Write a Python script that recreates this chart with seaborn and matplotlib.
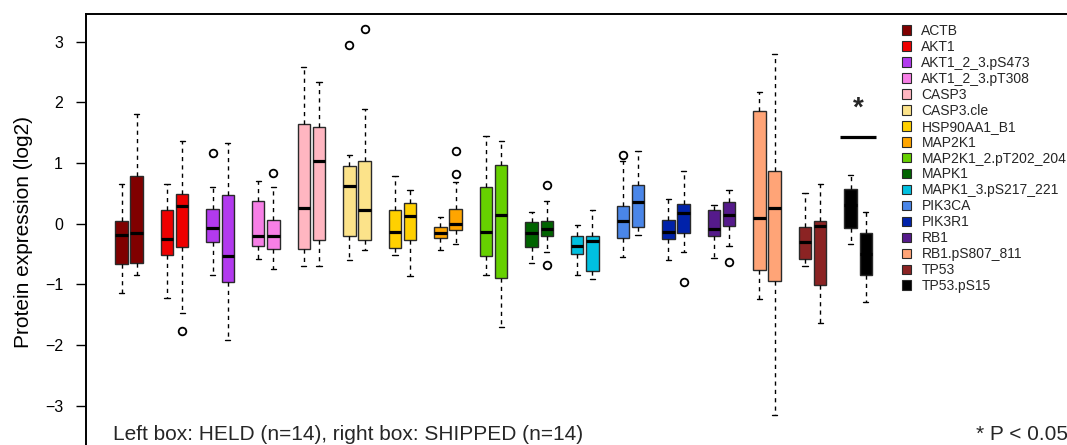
import numpy as np
import matplotlib
matplotlib.use("Agg")
import matplotlib.pyplot as plt
from matplotlib.patches import Patch
import seaborn as sns

genes = ["ACTB", "AKT1", "AKT1_2_3.pS473", "AKT1_2_3.pT308", "CASP3", "CASP3.cle",
         "HSP90AA1_B1", "MAP2K1", "MAP2K1_2.pT202_204", "MAPK1", "MAPK1_3.pS217_221",
         "PIK3CA", "PIK3R1", "RB1", "RB1.pS807_811", "TP53", "TP53.pS15"]
colors = ["#800000", "#EE0000", "#B23AEE", "#F77FE6", "#FFB6C1", "#FCE38A",
          "#FFD000", "#FFA500", "#66D000", "#006400", "#00C0E0",
          "#4A86E8", "#0022AA", "#551A8B", "#FFA477", "#8B2323", "#000000"]

# HELD (left box) statistics
held_lo  = [-1.14, -1.22, -0.85, -0.59, -0.70, -0.60, -0.51, -0.44, -0.85, -0.65, -0.85, -0.55, -0.60, -0.57, -1.24, -0.70, -0.33]
held_q1  = [-0.67, -0.51, -0.31, -0.36, -0.42, -0.20, -0.40, -0.24, -0.53, -0.39, -0.50, -0.24, -0.25, -0.20, -0.76, -0.59, -0.07]
held_med = [-0.18, -0.25, -0.07, -0.21,  0.26,  0.62, -0.13, -0.15, -0.14, -0.16, -0.37,  0.05, -0.14, -0.08,  0.09, -0.31,  0.30]
held_q3  = [ 0.04,  0.23,  0.25,  0.38,  1.65,  0.95,  0.22, -0.05,  0.60,  0.03, -0.21,  0.29,  0.06,  0.22,  1.86, -0.05,  0.57]
held_hi  = [ 0.66,  0.66,  0.60,  0.70,  2.58,  1.14,  0.79,  0.11,  1.44,  0.19, -0.02,  1.03,  0.40,  0.30,  2.17,  0.51,  0.81]
held_out = [[], [], [1.16], [], [], [2.94], [], [], [], [], [], [1.14], [], [], [], [], []]

# SHIPPED (right box) statistics
ship_lo  = [-0.85, -1.47, -1.91, -0.74, -0.69, -0.44, -0.86, -0.33, -1.70, -0.47, -0.91, -0.19, -0.47, -0.37, -3.15, -1.63, -1.29]
ship_q1  = [-0.64, -0.38, -0.96, -0.41, -0.27, -0.27, -0.27, -0.11, -0.89, -0.20, -0.78, -0.05, -0.15, -0.04, -0.95, -1.01, -0.85]
ship_med = [-0.16,  0.29, -0.54, -0.21,  1.03,  0.23,  0.13,  0.00,  0.15, -0.08, -0.29,  0.35,  0.17,  0.15,  0.26, -0.04, -0.50]
ship_q3  = [ 0.79,  0.49,  0.47,  0.06,  1.59,  1.03,  0.34,  0.24,  0.96,  0.04, -0.21,  0.63,  0.33,  0.35,  0.86,  0.05, -0.15]
ship_hi  = [ 1.80,  1.37,  1.33,  0.60,  2.34,  1.89,  0.55,  0.69,  1.37,  0.38,  0.22,  1.20,  0.86,  0.55,  2.80,  0.66,  0.19]
ship_out = [[], [-1.77], [], [0.84], [], [3.21], [], [0.82, 1.19], [], [0.63, -0.68], [], [], [-0.96], [-0.63], [], [], []]

sig_gene = "TP53.pS15"
sig_bar_y = 1.43
sig_star_y = 1.94

yticks = [-3, -2, -1, 0, 1, 2, 3]
ylabel = "Protein expression (log2)"
footnote_left = "Left box: HELD (n=14), right box: SHIPPED (n=14)"
footnote_right = "* P < 0.05"

sns.set_theme(style="white")
plt.rcParams["font.family"] = ["Liberation Sans", "DejaVu Sans"]

W, H = 1067, 445
fig = plt.figure(figsize=(W / 100, H / 100), dpi=100)
u = 15.19          # pixels per slot
slot1_px = 121.5
left_px, right_px, top_px = 86, 1095, 14
ax = fig.add_axes([left_px / W, 0, (right_px - left_px) / W, 1 - top_px / H])
ax.set_xlim(1 - (slot1_px - left_px) / u, 1 + (right_px - slot1_px) / u)
ax.set_ylim(-3.648, 3.456)

def stats(lo, q1, med, q3, hi, out, label):
    return [dict(whislo=a, q1=b, med=c, q3=d, whishi=e, fliers=f, label=label)
            for a, b, c, d, e, f in zip(lo, q1, med, q3, hi, out)]

held_stats = stats(held_lo, held_q1, held_med, held_q3, held_hi, held_out, "HELD")
ship_stats = stats(ship_lo, ship_q1, ship_med, ship_q3, ship_hi, ship_out, "SHIPPED")
k = np.arange(1, len(genes) + 1)
pos_held = 3 * k - 2
pos_ship = 3 * k - 1

common = dict(widths=0.82, capwidths=0.35, patch_artist=True, manage_ticks=False,
              whiskerprops=dict(color="black", lw=1.0, linestyle=(0, (3, 3))),
              capprops=dict(color="black", lw=1.0),
              medianprops=dict(color="black", lw=2.3, solid_capstyle="butt"),
              flierprops=dict(marker="o", markersize=5.5, markerfacecolor="none",
                              markeredgecolor="black", markeredgewidth=1.3))
for st, pos in ((held_stats, pos_held), (ship_stats, pos_ship)):
    res = ax.bxp(st, positions=pos, **common)
    for box, c in zip(res["boxes"], colors):
        box.set_facecolor(c)
        box.set_edgecolor("#2a2a2a")
        box.set_linewidth(1.0)

# significance marker
gi = genes.index(sig_gene)
cx = (pos_held[gi] + pos_ship[gi]) / 2
ax.plot([cx - 1.18, cx + 1.18], [sig_bar_y, sig_bar_y], color="black", lw=2.3,
        solid_capstyle="butt")
ax.text(cx, sig_star_y, "*", ha="center", va="center_baseline", fontsize=20,
        fontweight="bold")

# axes styling
ax.set_yticks(yticks)
ax.set_yticklabels([f"{t}".replace("-", "\u2212") for t in yticks], fontsize=11.5)
ax.set_xticks([])
ax.tick_params(axis="y", which="both", left=True, length=7.5, width=1.0, pad=9,
               color="black", labelcolor="black")
for s in ("right", "bottom"):
    ax.spines[s].set_visible(False)
for s in ("left", "top"):
    ax.spines[s].set_color("black")
    ax.spines[s].set_linewidth(1.4)
ax.set_ylabel(ylabel, fontsize=15, color="black")
ax.yaxis.set_label_coords(33 / W, 1 - 231.5 / H, transform=fig.transFigure)

# legend
handles = [Patch(facecolor=c, edgecolor="#2a2a2a", lw=0.8, label=g)
           for g, c in zip(genes, colors)]
fig.legend(handles=handles, loc="upper left", bbox_to_anchor=(902 / W, 1 - 24 / H),
           frameon=False, fontsize=10, handlelength=0.68, handleheight=0.68,
           handletextpad=0.72, labelspacing=0.14, borderpad=0, borderaxespad=0)

fig.text(113 / W, 5.5 / H, footnote_left, fontsize=15, ha="left", va="baseline")
fig.text(976 / W, 5.5 / H, footnote_right, fontsize=15, ha="left", va="baseline")

fig.savefig("out.png", dpi=100)
